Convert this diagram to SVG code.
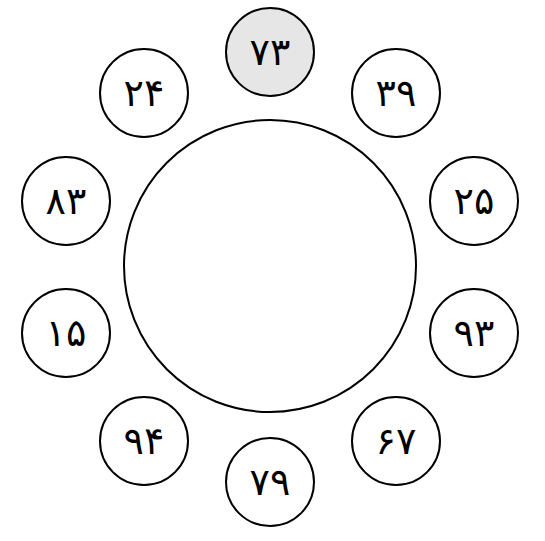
<svg xmlns="http://www.w3.org/2000/svg" width="545" height="541" viewBox="0 0 545 541">
<style>
.n{fill:#fff;stroke:#000;stroke-width:2}
.hl{fill:#e6e6e6}
text{font-family:"DejaVu Serif","DejaVu Sans",sans-serif;font-size:38px;text-anchor:middle;dominant-baseline:central;fill:#000;letter-spacing:3px}
</style>
<rect width="545" height="541" fill="#fff"/>
<g id="center"><circle class="n" cx="270" cy="266" r="146"/></g>
<g id="connectors"></g>
<g id="n73"><circle class="n hl" cx="270" cy="52" r="44"/><text x="270" y="52">۷۳</text></g>
<g id="n39"><circle class="n" cx="396" cy="93" r="44"/><text x="396" y="93">۳۹</text></g>
<g id="n25"><circle class="n" cx="474" cy="201" r="44"/><text x="474" y="201">۲۵</text></g>
<g id="n93"><circle class="n" cx="474" cy="333" r="44"/><text x="474" y="333">۹۳</text></g>
<g id="n67"><circle class="n" cx="396" cy="441" r="44"/><text x="396" y="441">۶۷</text></g>
<g id="n79"><circle class="n" cx="270" cy="482" r="44"/><text x="270" y="482">۷۹</text></g>
<g id="n94"><circle class="n" cx="144" cy="441" r="44"/><text x="144" y="441">۹۴</text></g>
<g id="n15"><circle class="n" cx="66" cy="333" r="44"/><text x="66" y="333">۱۵</text></g>
<g id="n83"><circle class="n" cx="66" cy="201" r="44"/><text x="66" y="201">۸۳</text></g>
<g id="n24"><circle class="n" cx="144" cy="93" r="44"/><text x="144" y="93">۲۴</text></g>
</svg>
